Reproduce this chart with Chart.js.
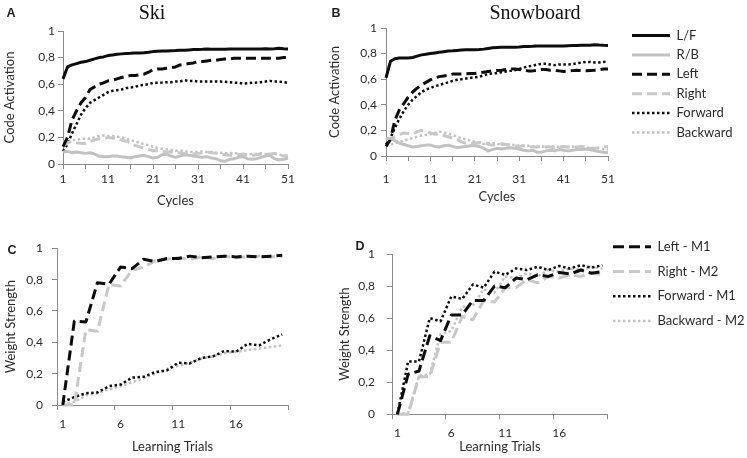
<!DOCTYPE html>
<html>
<head>
<meta charset="utf-8">
<script src="https://cdn.jsdelivr.net/npm/chart.js@4.4.1/dist/chart.umd.min.js"></script>
<style>
  html, body { margin: 0; padding: 0; background: #fff; }
  #wrap { position: relative; width: 747px; height: 458px; overflow: hidden; }
  canvas { position: absolute; }
  .tag { position: absolute; font: bold 12.5px "Liberation Sans", Arial, sans-serif; color: #222; transform: translate(-50%, -50%); }
  .ttl { position: absolute; font: 20px "Liberation Serif", "Times New Roman", serif; color: #111; transform: translate(-50%, -50%); white-space: nowrap; }
</style>
</head>
<body>
<div id="wrap">
  <canvas id="ski" width="300" height="215" style="left:0;top:0"></canvas>
  <canvas id="snow" width="447" height="215" style="left:300px;top:0"></canvas>
  <canvas id="trialC" width="300" height="233" style="left:0;top:225px"></canvas>
  <canvas id="trialD" width="447" height="233" style="left:300px;top:225px"></canvas>
  <div class="tag" style="left:11px;top:13px">A</div>
  <div class="tag" style="left:336px;top:13px">B</div>
  <div class="tag" style="left:12px;top:250px">C</div>
  <div class="tag" style="left:360px;top:246px">D</div>
  <div class="ttl" style="left:152px;top:12px">Ski</div>
  <div class="ttl" style="left:535px;top:12px">Snowboard</div>
</div>
<script>
// ---- data ----
const cycles = [];
for (let i = 1; i <= 51; i++) cycles.push(String(i));
const trials = [];
for (let i = 1; i <= 20; i++) trials.push(String(i));

// A - Ski
const skiLF = [0.64,0.73,0.745,0.755,0.765,0.77,0.78,0.79,0.80,0.805, 0.815,0.82,0.825,0.828,0.83,0.832,0.835,0.835,0.837,0.84, 0.845,0.848,0.85,0.85,0.852,0.853,0.855,0.856,0.858,0.86, 0.86,0.862,0.865,0.863,0.862,0.862,0.863,0.864,0.864,0.865, 0.864,0.865,0.865,0.864,0.865,0.866,0.865,0.866,0.87,0.866,0.865];
const skiRB = [0.09,0.095,0.085,0.09,0.085,0.08,0.085,0.075,0.06,0.055, 0.055,0.06,0.06,0.055,0.05,0.045,0.055,0.06,0.065,0.055, 0.045,0.05,0.07,0.075,0.06,0.05,0.06,0.07,0.065,0.06, 0.055,0.05,0.055,0.045,0.04,0.025,0.02,0.035,0.04,0.05, 0.055,0.04,0.035,0.04,0.05,0.06,0.065,0.04,0.03,0.035,0.045];
const skiLeft = [0.13,0.2,0.33,0.40,0.46,0.50,0.56,0.58,0.60,0.61, 0.625,0.63,0.64,0.65,0.66,0.665,0.665,0.67,0.675,0.69, 0.71,0.715,0.715,0.72,0.725,0.73,0.745,0.75,0.755,0.76, 0.77,0.77,0.775,0.78,0.78,0.785,0.79,0.79,0.795,0.795, 0.795,0.795,0.795,0.795,0.795,0.795,0.795,0.795,0.795,0.8,0.8];
const skiRight = [0.13,0.16,0.17,0.16,0.155,0.155,0.17,0.18,0.19,0.19, 0.2,0.195,0.19,0.18,0.17,0.16,0.14,0.13,0.12,0.11, 0.1,0.1,0.095,0.09,0.09,0.085,0.085,0.08,0.08,0.075, 0.08,0.085,0.09,0.085,0.08,0.075,0.07,0.065,0.065,0.07, 0.075,0.07,0.065,0.07,0.075,0.07,0.075,0.08,0.07,0.06,0.06];
const skiFwd = [0.095,0.15,0.23,0.30,0.37,0.42,0.46,0.48,0.50,0.52, 0.54,0.55,0.555,0.56,0.57,0.575,0.58,0.59,0.595,0.60, 0.61,0.61,0.612,0.615,0.615,0.62,0.62,0.63,0.625,0.625, 0.62,0.62,0.62,0.62,0.62,0.62,0.618,0.615,0.612,0.61, 0.605,0.607,0.61,0.612,0.615,0.62,0.625,0.62,0.62,0.615,0.61];
const skiBack = [0.17,0.17,0.18,0.18,0.19,0.19,0.19,0.2,0.21,0.215, 0.21,0.21,0.205,0.2,0.19,0.18,0.17,0.16,0.15,0.14, 0.13,0.12,0.115,0.11,0.105,0.1,0.1,0.095,0.09,0.09, 0.09,0.095,0.09,0.09,0.085,0.085,0.08,0.08,0.085,0.075, 0.07,0.07,0.075,0.075,0.08,0.075,0.07,0.075,0.07,0.065,0.06];

// B - Snowboard
const sbLF = [0.61,0.74,0.76,0.765,0.765,0.765,0.77,0.78,0.79,0.795, 0.80,0.805,0.81,0.815,0.82,0.822,0.825,0.828,0.83,0.83, 0.83,0.832,0.835,0.84,0.845,0.848,0.85,0.85,0.85,0.85, 0.852,0.855,0.855,0.857,0.86,0.86,0.86,0.86,0.86,0.86, 0.86,0.862,0.863,0.863,0.865,0.865,0.866,0.87,0.867,0.865,0.864];
const sbRB = [0.13,0.14,0.12,0.1,0.09,0.08,0.07,0.075,0.08,0.085, 0.085,0.075,0.07,0.08,0.085,0.075,0.065,0.07,0.075,0.08, 0.08,0.075,0.06,0.04,0.05,0.06,0.055,0.06,0.065,0.06, 0.055,0.045,0.04,0.045,0.03,0.03,0.04,0.045,0.04,0.05, 0.045,0.04,0.045,0.05,0.05,0.055,0.05,0.04,0.035,0.03,0.025];
const sbLeft = [0.075,0.13,0.28,0.36,0.41,0.46,0.50,0.53,0.555,0.575, 0.595,0.61,0.62,0.625,0.63,0.64,0.64,0.64,0.642,0.645, 0.645,0.65,0.655,0.66,0.665,0.668,0.67,0.675,0.68,0.68, 0.675,0.67,0.665,0.665,0.67,0.675,0.675,0.67,0.67,0.665, 0.66,0.663,0.667,0.67,0.668,0.666,0.668,0.67,0.675,0.68,0.68];
const sbRight = [0.14,0.13,0.15,0.165,0.18,0.175,0.17,0.19,0.2,0.195, 0.18,0.17,0.17,0.16,0.15,0.14,0.13,0.11,0.1,0.1, 0.1,0.105,0.11,0.09,0.085,0.09,0.095,0.09,0.085,0.08, 0.075,0.08,0.075,0.07,0.07,0.075,0.07,0.07,0.065,0.07, 0.075,0.07,0.065,0.07,0.075,0.07,0.06,0.06,0.065,0.07,0.075];
const sbFwd = [0.09,0.14,0.22,0.29,0.35,0.40,0.44,0.47,0.50,0.52, 0.53,0.545,0.555,0.565,0.575,0.587,0.595,0.60,0.605,0.61, 0.615,0.62,0.63,0.64,0.645,0.647,0.655,0.66,0.665,0.67, 0.68,0.69,0.70,0.705,0.715,0.72,0.72,0.715,0.71,0.715, 0.715,0.715,0.718,0.725,0.73,0.735,0.735,0.73,0.73,0.735,0.74];
const sbBack = [0.08,0.09,0.1,0.11,0.12,0.13,0.14,0.15,0.16,0.165, 0.17,0.18,0.19,0.185,0.175,0.165,0.15,0.14,0.13,0.12, 0.11,0.1,0.095,0.1,0.1,0.095,0.09,0.09,0.085,0.085, 0.08,0.08,0.08,0.075,0.075,0.075,0.07,0.075,0.075,0.07, 0.07,0.07,0.075,0.07,0.065,0.065,0.065,0.06,0.06,0.055,0.05];

// C - weights, ski
const cLeft = [0,0.535,0.53,0.78,0.77,0.88,0.87,0.93,0.915,0.935, 0.935,0.95,0.94,0.945,0.95,0.945,0.95,0.945,0.95,0.955];
const cRight = [0,0,0.48,0.47,0.77,0.76,0.86,0.88,0.92,0.93, 0.94,0.93,0.945,0.935,0.95,0.94,0.945,0.95,0.945,0.95];
const cFwd = [0.02,0.05,0.075,0.08,0.12,0.13,0.175,0.18,0.21,0.22, 0.27,0.265,0.3,0.31,0.345,0.34,0.39,0.38,0.42,0.45];
const cBack = [0,0.02,0.06,0.075,0.1,0.12,0.145,0.17,0.2,0.23, 0.25,0.27,0.295,0.31,0.33,0.34,0.35,0.36,0.37,0.38];

// D - weights, snowboard
const dLeft = [0,0.25,0.27,0.49,0.46,0.62,0.62,0.71,0.71,0.8, 0.79,0.85,0.84,0.87,0.86,0.885,0.875,0.9,0.88,0.89];
const dRight = [0,0,0.235,0.235,0.45,0.45,0.61,0.59,0.71,0.7, 0.79,0.79,0.84,0.82,0.86,0.85,0.87,0.86,0.885,0.87];
const dFwd = [0,0.33,0.33,0.6,0.58,0.735,0.72,0.81,0.79,0.89, 0.87,0.91,0.9,0.92,0.9,0.925,0.91,0.93,0.915,0.93];
const dBack = [0,0.01,0.24,0.25,0.5,0.52,0.67,0.68,0.78,0.76, 0.86,0.85,0.88,0.86,0.9,0.89,0.91,0.9,0.92,0.91];

// ---- styles ----
const FONT = 'Lato, "Open Sans", sans-serif';
const TXT = '#2b2b2b';
const AXIS = '#8a8a8a';
const BLK = '#0d0d0d';
const GRY = '#c2c2c2';
const DASH = [10, 5];
const DOT = [2.5, 2.5];
const NONE = 'rgba(0,0,0,0)';

Chart.defaults.font.family = FONT;
Chart.defaults.animation = false;

function line(label, data, color, dash, width) {
  return {
    label: label, data: data,
    borderColor: color, backgroundColor: color,
    borderWidth: width, borderDash: dash,
    borderCapStyle: 'butt', borderJoinStyle: 'round',
    pointRadius: 0, tension: 0, clip: false
  };
}

// "0,2" style labels, only every 0.2
function decimalComma(v) {
  const t = Math.round(v * 10);
  if (t % 2) return '';
  if (t === 0) return '0';
  if (t === 10) return '1';
  return '0,' + t;
}

function yAxis(width, step, title, titlePad, tickPad) {
  return {
    min: 0, max: 1,
    afterFit: s => { s.width = width; },
    border: { color: AXIS, width: 1 },
    grid: { drawOnChartArea: false, tickLength: 5, tickColor: AXIS },
    ticks: { stepSize: step, padding: tickPad, color: TXT, font: { size: 12 }, callback: decimalComma },
    title: { display: true, text: title, color: TXT, font: { size: 13 }, padding: { top: titlePad, bottom: 0 } }
  };
}

// category axis; between = true puts points in the middle of each slot (trials)
function xAxis(labels, height, tickPad, title, every, tickEvery, between) {
  return {
    type: 'category', offset: between,
    afterFit: s => { s.height = height; },
    border: { color: AXIS, width: 1 },
    grid: {
      drawOnChartArea: false, tickLength: 5, offset: between,
      tickColor: c => (!(c.index % tickEvery) ? AXIS : NONE)
    },
    ticks: {
      autoSkip: false, maxRotation: 0, padding: tickPad, color: TXT, font: { size: 12 },
      callback: (v, i) => (i % every === 0 ? labels[i] : '')
    },
    title: { display: true, text: title, color: TXT, font: { size: 13 }, padding: { top: 0, bottom: 0 } }
  };
}

// empty right-hand axis that keeps the plot edge at a fixed x
function gapAxis(plotRight, pad) {
  return {
    type: 'linear', axis: 'y', position: 'right', display: true,
    grid: { display: false, drawTicks: false }, border: { display: false },
    ticks: { display: false },
    afterFit: s => { s.width = Math.max(0, s.chart.width - pad.right - s.chart.legend.width - plotRight); }
  };
}

// legend samples as dashed / dotted strokes
function legendLabels(asArray) {
  return chart => Chart.defaults.plugins.legend.labels.generateLabels(chart).map(it => {
    const ds = chart.data.datasets[it.datasetIndex];
    return Object.assign(it, {
      text: asArray ? [ds.label] : ds.label,
      lineDash: ds.borderDash, lineWidth: ds.borderWidth,
      strokeStyle: ds.borderColor, lineCap: 'butt'
    });
  });
}

function legendRight(pad, titleSize, lineH, asArray) {
  return {
    position: 'right', align: 'start', maxWidth: 400,
    title: { display: true, text: '', font: { size: titleSize }, padding: 0 },
    labels: {
      usePointStyle: true, pointStyle: 'line', pointStyleWidth: 38,
      padding: pad, color: TXT, font: { size: 13, lineHeight: lineH },
      generateLabels: legendLabels(asArray)
    }
  };
}

// move the legend box so that it starts at x = left (canvas px)
function pinLegend(chart, pad, left) {
  pad.right = chart.width - left - chart.legend.width;
  chart.update();
}

// top spacer (empty title) so the legend can start above the plot
const topGap = h => ({ display: true, text: '', font: { size: 20 }, padding: { top: 0, bottom: h - 24 } });

// ---- A: Ski ----
new Chart(document.getElementById('ski'), {
  type: 'line',
  data: {
    labels: cycles,
    datasets: [
      line('L/F', skiLF, BLK, [], 3),
      line('R/B', skiRB, GRY, [], 3),
      line('Left', skiLeft, BLK, DASH, 3),
      line('Right', skiRight, '#c8c8c8', DASH, 3),
      line('Forward', skiFwd, BLK, DOT, 2.5),
      line('Backward', skiBack, GRY, DOT, 2.5)
    ]
  },
  options: {
    responsive: false,
    layout: { padding: { top: 31, left: 0, right: 12, bottom: 6 } },
    plugins: { legend: { display: false }, tooltip: { enabled: false } },
    scales: {
      x: xAxis(cycles, 45, 2.8, 'Cycles', 10, 5, false),
      y: yAxis(63, 0.1, 'Code Activation', 2.2, 3)
    }
  }
});

// ---- B: Snowboard (with legend) ----
const padB = { top: 0, left: 0, right: 0, bottom: 10.2 };
const snow = new Chart(document.getElementById('snow'), {
  type: 'line',
  data: {
    labels: cycles,
    datasets: [
      line('L/F', sbLF, BLK, [], 3),
      line('R/B', sbRB, GRY, [], 3),
      line('Left', sbLeft, BLK, DASH, 3),
      line('Right', sbRight, '#c8c8c8', DASH, 3),
      line('Forward', sbFwd, BLK, DOT, 2.5),
      line('Backward', sbBack, GRY, DOT, 2.5)
    ]
  },
  options: {
    responsive: false,
    layout: { padding: padB },
    plugins: {
      title: topGap(28),
      legend: legendRight(6.4, 18.83, 1.2, false),
      tooltip: { enabled: false }
    },
    scales: {
      x: xAxis(cycles, 48.8, 10.8, 'Cycles', 10, 5, false),
      y: yAxis(86, 0.1, 'Code Activation', 27.2, 4),
      gap: gapAxis(308, padB)
    }
  }
});
pinLegend(snow, padB, 325.6);

// ---- C: weights, ski ----
new Chart(document.getElementById('trialC'), {
  type: 'line',
  data: {
    labels: trials,
    datasets: [
      line('Left - M1', cLeft, BLK, DASH, 3),
      line('Right - M2', cRight, '#c8c8c8', DASH, 3),
      line('Forward - M1', cFwd, BLK, DOT, 2.5),
      line('Backward - M2', cBack, GRY, DOT, 2.5)
    ]
  },
  options: {
    responsive: false,
    layout: { padding: { top: 23.3, left: 0, right: 12, bottom: 3.5 } },
    plugins: { legend: { display: false }, tooltip: { enabled: false } },
    scales: {
      x: xAxis(trials, 49.5, 6.8, 'Learning Trials', 5, 5, true),
      y: yAxis(57, 0.2, 'Weight Strength', 3.2, 9)
    }
  }
});

// ---- D: weights, snowboard (with legend) ----
const padD = { top: 0, left: 0, right: 0, bottom: 3.7 };
const trialD = new Chart(document.getElementById('trialD'), {
  type: 'line',
  data: {
    labels: trials,
    datasets: [
      line('Left - M1', dLeft, BLK, [11, 5], 3),
      line('Right - M2', dRight, '#c8c8c8', [11, 5], 3),
      line('Forward - M1', dFwd, BLK, DOT, 2.5),
      line('Backward - M2', dBack, GRY, DOT, 2.5)
    ]
  },
  options: {
    responsive: false,
    layout: { padding: padD },
    plugins: {
      title: topGap(29),
      legend: legendRight(5.2, 8.42, 1.5, true),
      tooltip: { enabled: false }
    },
    scales: {
      x: xAxis(trials, 40, 6.5, 'Learning Trials', 5, 5, true),
      y: yAxis(92, 0.2, 'Weight Strength', 37.2, 12),
      gap: gapAxis(308, padD)
    }
  }
});
pinLegend(trialD, padD, 307.8);
</script>
</body>
</html>
